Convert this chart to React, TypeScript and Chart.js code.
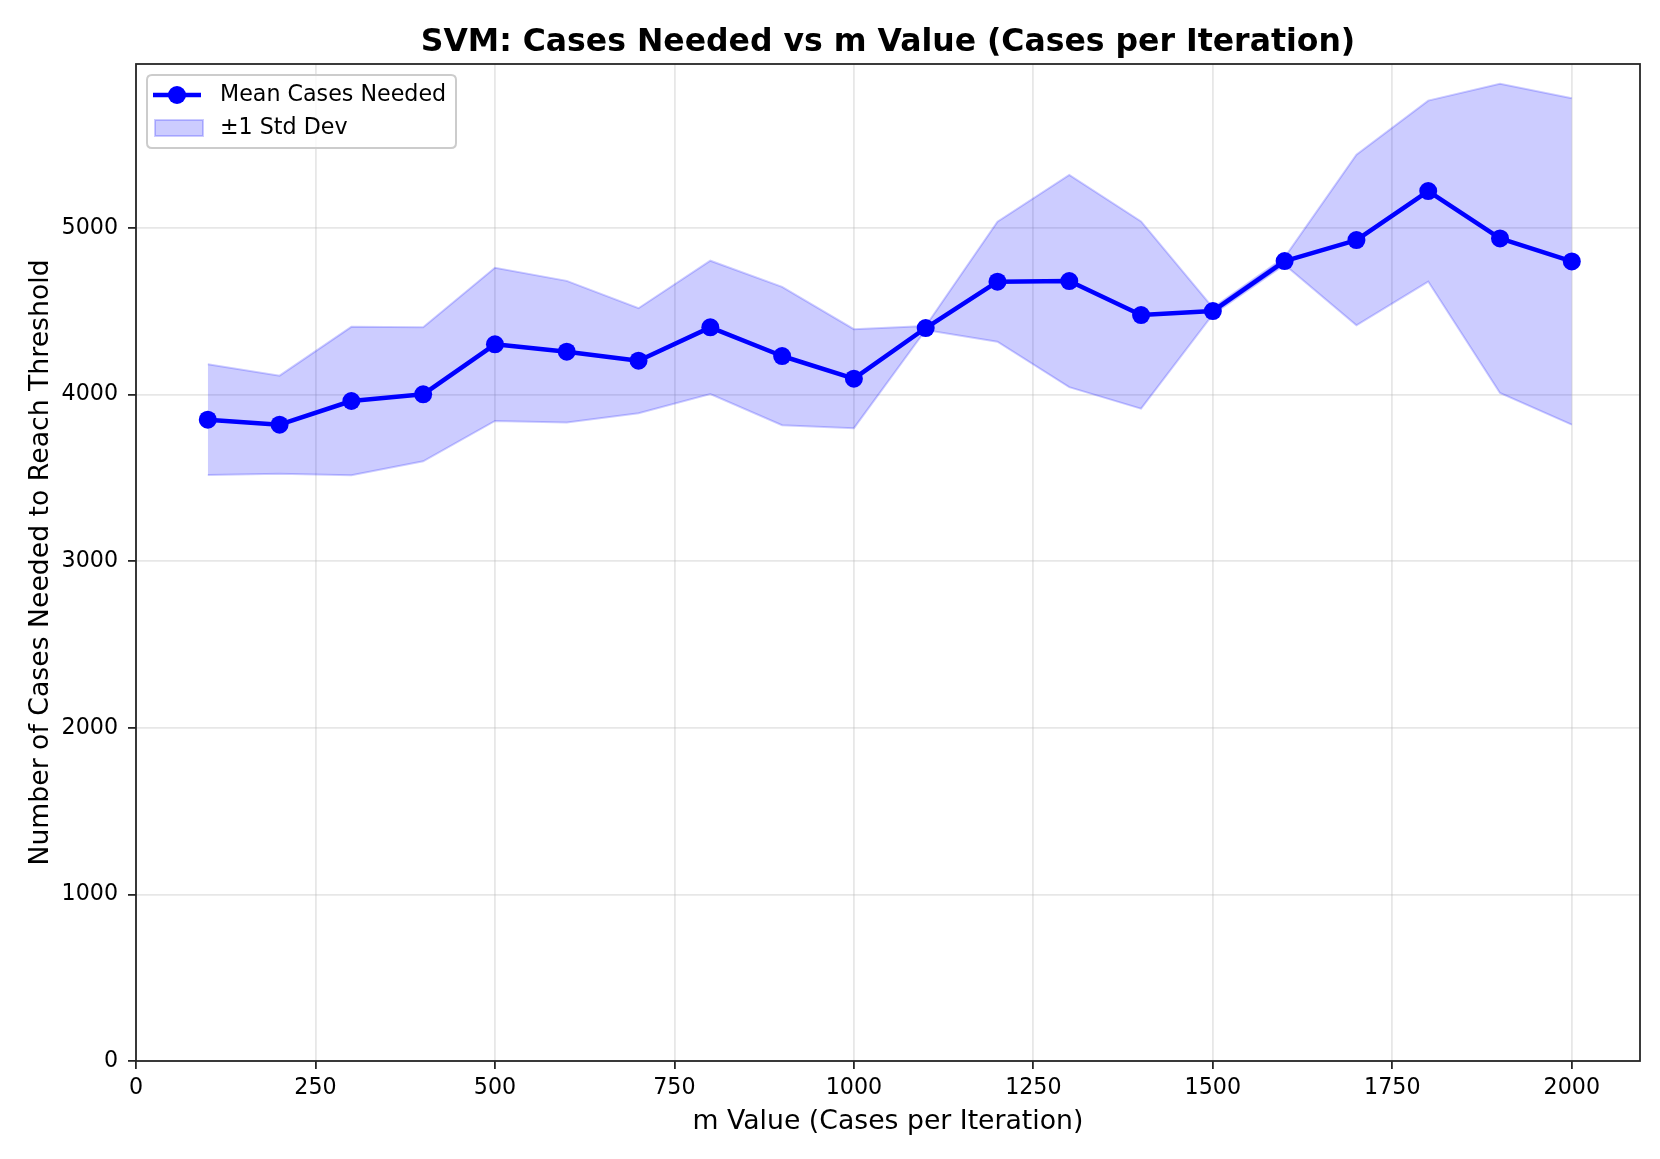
import React, { useEffect, useRef } from "react";
import { Chart, registerables } from "chart.js";

Chart.register(...registerables);

// ---- data ----
const mValues = [100, 200, 300, 400, 500, 600, 700, 800, 900, 1000, 1100, 1200, 1300, 1400, 1500, 1600, 1700, 1800, 1900, 2000];
const meanCases = [3850, 3820, 3962, 4002, 4302, 4258, 4204, 4404, 4232, 4096, 4400, 4678, 4682, 4478, 4502, 4802, 4928, 5222, 4938, 4800];
const stdCases = [332, 294, 445, 402, 460, 425, 315, 400, 415, 297, 12, 360, 637, 562, 20, 22, 512, 543, 928, 980];

const xTickValues = [0, 250, 500, 750, 1000, 1250, 1500, 1750, 2000];
const yTickValues = [0, 1000, 2000, 3000, 4000, 5000];
const X_MIN = 0;
const X_MAX = 2095;
const Y_MIN = 0;
const Y_MAX = 5985;

const TITLE = "SVM: Cases Needed vs m Value (Cases per Iteration)";
const X_LABEL = "m Value (Cases per Iteration)";
const Y_LABEL = "Number of Cases Needed to Reach Threshold";
const MEAN_LABEL = "Mean Cases Needed";
const BAND_LABEL = "\u00b11 Std Dev";

// ---- styles ----
const FONT = "'DejaVu Sans', 'Liberation Sans', sans-serif";
const BLUE = "#0000ff";
const BAND_FILL = "rgba(0,0,255,0.2)";
const GRID = "rgba(176,176,176,0.3)";
const SPINE = "#262626";

const overlayPlugin = {
  id: "overlay",
  afterDraw(chart: any) {
    const { ctx, chartArea: ca } = chart;
    ctx.save();
    // frame
    ctx.strokeStyle = SPINE;
    ctx.lineWidth = 1.8;
    ctx.strokeRect(ca.left, ca.top, ca.right - ca.left, ca.bottom - ca.top);

    // title
    ctx.fillStyle = "#000";
    ctx.font = `bold 31.5px ${FONT}`;
    ctx.textAlign = "center";
    ctx.textBaseline = "alphabetic";
    ctx.fillText(TITLE, (ca.left + ca.right) / 2, ca.top - 13);

    // legend
    const ds = chart.data.datasets;
    const lx = ca.left + 11;
    const ly = ca.top + 11;
    const lw = 309;
    const lh = 73;
    ctx.beginPath();
    const r = 5;
    ctx.moveTo(lx + r, ly);
    ctx.lineTo(lx + lw - r, ly);
    ctx.quadraticCurveTo(lx + lw, ly, lx + lw, ly + r);
    ctx.lineTo(lx + lw, ly + lh - r);
    ctx.quadraticCurveTo(lx + lw, ly + lh, lx + lw - r, ly + lh);
    ctx.lineTo(lx + r, ly + lh);
    ctx.quadraticCurveTo(lx, ly + lh, lx, ly + lh - r);
    ctx.lineTo(lx, ly + r);
    ctx.quadraticCurveTo(lx, ly, lx + r, ly);
    ctx.closePath();
    ctx.fillStyle = "rgba(255,255,255,0.8)";
    ctx.fill();
    ctx.strokeStyle = "#cccccc";
    ctx.lineWidth = 2;
    ctx.stroke();

    const row1 = ly + 20;
    const row2 = ly + 53;
    // mean line handle
    ctx.strokeStyle = ds[0].borderColor;
    ctx.lineWidth = ds[0].borderWidth;
    ctx.beginPath();
    ctx.moveTo(lx + 6, row1);
    ctx.lineTo(lx + 54, row1);
    ctx.stroke();
    ctx.fillStyle = ds[0].pointBackgroundColor;
    ctx.beginPath();
    ctx.arc(lx + 30, row1, ds[0].pointRadius, 0, Math.PI * 2);
    ctx.fill();
    // band handle
    ctx.fillStyle = ds[1].backgroundColor;
    ctx.fillRect(lx + 8, row2 - 8, 48, 16);
    ctx.strokeStyle = ds[1].borderColor;
    ctx.lineWidth = 2;
    ctx.strokeRect(lx + 8, row2 - 8, 48, 16);

    ctx.fillStyle = "#000";
    ctx.font = `22.2px ${FONT}`;
    ctx.textAlign = "left";
    ctx.textBaseline = "middle";
    ctx.fillText(ds[0].label, lx + 73, row1);
    ctx.fillText(BAND_LABEL, lx + 73, row2);
    ctx.restore();
  },
};

export default function App() {
  const ref = useRef<HTMLCanvasElement | null>(null);

  useEffect(() => {
    document.body.style.margin = "0";
    const canvas = ref.current;
    if (!canvas) return;

    const meanPts = mValues.map((x, i) => ({ x, y: meanCases[i] }));
    const upperPts = mValues.map((x, i) => ({ x, y: meanCases[i] + stdCases[i] }));
    const lowerPts = mValues.map((x, i) => ({ x, y: meanCases[i] - stdCases[i] }));

    const plainTick = (v: any) => String(v);

    const chart = new Chart(canvas, {
      type: "line",
      data: {
        datasets: [
          {
            label: MEAN_LABEL,
            data: meanPts,
            borderColor: BLUE,
            backgroundColor: BLUE,
            borderWidth: 4.5,
            pointRadius: 9,
            pointHoverRadius: 9,
            pointBackgroundColor: BLUE,
            pointBorderWidth: 0,
            borderJoinStyle: "round",
            fill: false,
            tension: 0,
          },
          {
            label: BAND_LABEL,
            data: upperPts,
            borderColor: BAND_FILL,
            backgroundColor: BAND_FILL,
            borderWidth: 2,
            pointRadius: 0,
            fill: "+1",
            tension: 0,
          },
          {
            label: "lower",
            data: lowerPts,
            borderColor: BAND_FILL,
            backgroundColor: BAND_FILL,
            borderWidth: 2,
            pointRadius: 0,
            fill: false,
            tension: 0,
          },
        ],
      },
      options: {
        animation: false,
        responsive: false,
        devicePixelRatio: 1,
        layout: { padding: { top: 64, left: 0, right: 20, bottom: 0 } },
        plugins: {
          legend: { display: false },
          title: { display: false },
          tooltip: { enabled: false },
        },
        scales: {
          x: {
            type: "linear",
            min: X_MIN,
            max: X_MAX,
            afterBuildTicks: (s: any) => {
              s.ticks = xTickValues.map((v) => ({ value: v }));
            },
            afterFit: (s: any) => {
              s.height = 98;
            },
            grid: {
              color: GRID,
              lineWidth: 1.8,
              drawTicks: true,
              tickLength: 8,
              tickColor: SPINE,
              tickWidth: 1.8,
            },
            border: { display: false },
            ticks: {
              font: { family: FONT, size: 22.2 },
              color: "#000",
              padding: 6,
              maxRotation: 0,
              autoSkip: false,
              callback: plainTick,
            },
            title: {
              display: true,
              text: X_LABEL,
              font: { family: FONT, size: 26.7 },
              color: "#000",
              padding: { top: 0, bottom: 21 },
            },
          },
          y: {
            type: "linear",
            min: Y_MIN,
            max: Y_MAX,
            afterBuildTicks: (s: any) => {
              s.ticks = yTickValues.map((v) => ({ value: v }));
            },
            afterFit: (s: any) => {
              s.width = 136;
            },
            grid: {
              color: GRID,
              lineWidth: 1.8,
              drawTicks: true,
              tickLength: 8,
              tickColor: SPINE,
              tickWidth: 1.8,
            },
            border: { display: false },
            ticks: {
              font: { family: FONT, size: 22.2 },
              color: "#000",
              padding: 10,
              autoSkip: false,
              callback: plainTick,
            },
            title: {
              display: true,
              text: Y_LABEL,
              font: { family: FONT, size: 26.7 },
              color: "#000",
              padding: { top: 25, bottom: 0 },
            },
          },
        },
      },
      plugins: [overlayPlugin],
    } as any);

    return () => chart.destroy();
  }, []);

  return (
    <div style={{ width: 1660, height: 1159, overflow: "hidden", background: "#fff" }}>
      <canvas ref={ref} width={1660} height={1159} style={{ display: "block", width: 1660, height: 1159 }} />
    </div>
  );
}
